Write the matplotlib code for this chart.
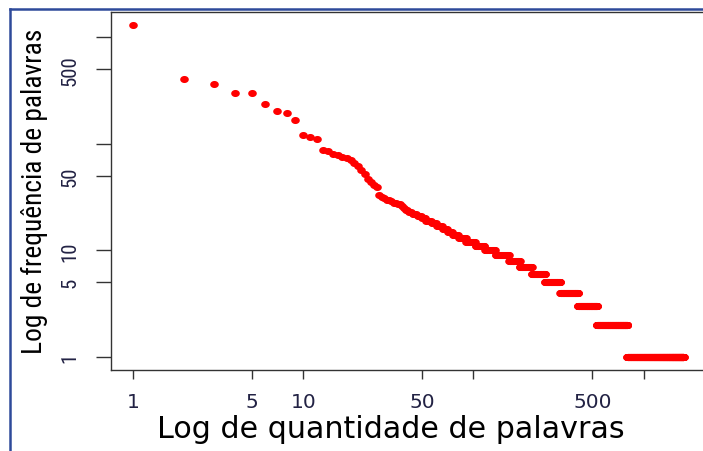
'''
Frequência x quantidade de palavras (escala log-log), estilo gráfico do R
'''

import numpy as np
import matplotlib.pyplot as plt
from matplotlib.lines import Line2D
from matplotlib.path import Path
from matplotlib import font_manager

# frequências das palavras mais frequentes (posições 1..33)
top_freqs = [1300, 410, 366, 300, 300, 235, 205, 193, 168, 122, 117, 110,
             88, 85, 81, 78, 75, 73, 70, 66, 62, 57, 52, 47, 44, 41, 39,
             33, 32, 31, 30, 30, 29]

# cauda: frequência e número de palavras com essa frequência
tail_freqs = [28, 27, 26, 25, 24, 23, 22, 21, 20, 19, 18, 17, 16, 15, 14,
              13, 12, 11, 10, 9, 8, 7, 6, 5, 4, 3, 2, 1]
tail_counts = [2, 2, 1, 1, 2, 2, 3, 3, 3, 4, 4, 5, 5, 5, 6,
               9, 12, 14, 18, 27, 26, 33, 43, 60, 88, 121, 270, 916]

tick_vals = [1, 5, 10, 50, 100, 500, 1000]
tick_labels = ["1", "5", "10", "50", "", "500", ""]

freqs = np.array(top_freqs + list(np.repeat(tail_freqs, tail_counts)))
ranks = np.arange(1, len(freqs) + 1)


def r_lim(v):
    # limites como no R: 4% a mais de cada lado (em escala log)
    lo, hi = np.log10(v.min()), np.log10(v.max())
    pad = 0.04 * (hi - lo)
    return 10 ** (lo - pad), 10 ** (hi + pad)


def pick_font(cands):
    names = {f.name for f in font_manager.fontManager.ttflist}
    for c in cands:
        if c in names:
            return c
    return "DejaVu Sans"


narrow = pick_font(["Liberation Sans Narrow", "DejaVu Sans Condensed",
                    "Roboto Condensed", "Open Sans Condensed",
                    "Liberation Sans"])

fig = plt.figure(figsize=(7.03, 4.52), dpi=100)
ax = fig.add_axes([111 / 703, 1 - 371 / 452, 594.6 / 703, 358 / 452])

# marcador levemente achatado (imagem original esticada na horizontal)
t = np.linspace(0, 2 * np.pi, 40)
ellipse = Path(np.column_stack([1.22 * np.cos(t), np.sin(t)]), closed=True)

ax.plot(ranks, freqs, linestyle="none", marker=ellipse, ms=6.2,
        color="#ff0000", mec="none")

ax.set_xscale("log")
ax.set_yscale("log")
ax.set_xlim(*r_lim(ranks))
ax.set_ylim(*r_lim(freqs))

ax.set_xticks(tick_vals)
ax.set_xticklabels(tick_labels)
ax.set_yticks(tick_vals)
ax.set_yticklabels(tick_labels)
ax.minorticks_off()

for s in ax.spines.values():
    s.set_linewidth(1.0)
    s.set_color("#333333")

ax.tick_params(axis="x", length=6.5, width=1.0, color="#333333", pad=9,
               labelsize=14.5, labelcolor="#222244")
ax.tick_params(axis="y", length=10.8, width=1.0, color="#333333", pad=12,
               labelrotation=90, labelcolor="#222244")
for lb in ax.get_xticklabels():
    lb.set_family("DejaVu Sans")
for lb in ax.get_yticklabels():
    lb.set_family(narrow)
    lb.set_fontsize(15)
    lb.set_va("center")

xl = fig.text(391 / 703, 1 - 430 / 452, "Log de quantidade de palavras",
              ha="center", va="center", fontsize=20, color="black",
              family="DejaVu Sans")
yl = fig.text(34 / 703, 1 - 191 / 452, "Log de frequência de palavras",
              ha="center", va="center", rotation=90, fontsize=18,
              color="black", family=narrow)

# ajusta o tamanho dos rótulos ao comprimento medido na figura original
r = fig.canvas.get_renderer()
w = xl.get_window_extent(r).width
xl.set_fontsize(20 * 468 / w)
h = yl.get_window_extent(r).height
yl.set_fontsize(18 * 326 / h)

# moldura azul do documento
fig.add_artist(Line2D([9.5 / 703, 9.5 / 703], [0, 1 - 9.5 / 452],
                      color="#2e4a9a", lw=1.8))
fig.add_artist(Line2D([9.5 / 703, 1], [1 - 9.5 / 452, 1 - 9.5 / 452],
                      color="#2e4a9a", lw=1.8))

fig.savefig("out.png", dpi=100)
